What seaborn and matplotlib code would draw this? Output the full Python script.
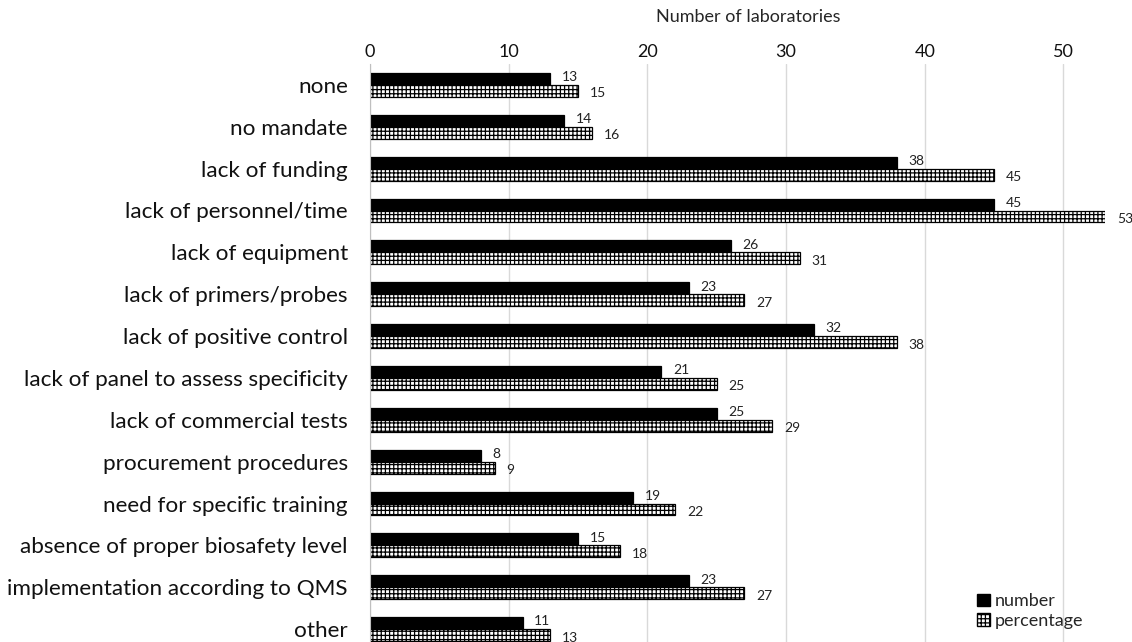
#! /usr/bin/env python3
'''
Barriers to test implementation: number and percentage of laboratories
'''

import numpy as np
import pandas as pd
import seaborn as sns
import matplotlib.pyplot as plt
from matplotlib.patches import Patch

# data
CATEGORIES = [
    'none', 'no mandate', 'lack of funding', 'lack of personnel/time',
    'lack of equipment', 'lack of primers/probes', 'lack of positive control',
    'lack of panel to assess specificity', 'lack of commercial tests',
    'procurement procedures', 'need for specific training',
    'absence of proper biosafety level', 'implementation according to QMS', 'other',
]
NUMBER = [13, 14, 38, 45, 26, 23, 32, 21, 25, 8, 19, 15, 23, 11]
PERCENTAGE = [15, 16, 45, 53, 31, 27, 38, 25, 29, 9, 22, 18, 27, 13]
SERIES = ['number', 'percentage']

df = pd.DataFrame({
    'category': CATEGORIES * 2,
    'value': NUMBER + PERCENTAGE,
    'series': ['number'] * len(NUMBER) + ['percentage'] * len(PERCENTAGE),
})

sns.set_style('white')
plt.rcParams['font.family'] = ['Lato', 'DejaVu Sans']
plt.rcParams['hatch.linewidth'] = 0.9

W, H = 1132, 642
fig = plt.figure(figsize=(W / 100, H / 100), dpi=100)
# axes in pixel terms: left 370, right 1105, top 64, bottom 650 (cut off)
ax = fig.add_axes([370 / W, 1 - 650 / H, (1105 - 370) / W, (650 - 64) / H])

sns.barplot(data=df, y='category', x='value', hue='series', orient='h',
            palette=['black', 'white'], width=0.57, edgecolor='black',
            linewidth=0.9, legend=False, ax=ax)

HATCH = '++++'
for p in ax.containers[1]:
    p.set_hatch(HATCH)
    p.set_edgecolor('black')

# value labels
for cont, vals, dy in zip(ax.containers, [NUMBER, PERCENTAGE], [-0.04, 0.06]):
    for p, v in zip(cont, vals):
        y = p.get_y() + p.get_height() / 2 + dy
        ax.text(v + 0.85, y, str(v), va='center', ha='left', fontsize=10,
                color='#222222')

ax.set_xlim(0, 53)
ax.set_ylim(len(CATEGORIES) - 0.5, -0.5)
ax.xaxis.tick_top()
ax.xaxis.set_label_position('top')
ax.set_xticks(np.arange(0, 51, 10))
ax.tick_params(axis='x', length=0, labelsize=13, pad=3, colors='#111111')
ax.set_xlabel('Number of laboratories', fontsize=13, labelpad=2)
ax.xaxis.set_label_coords(0.514, 1.072)
ax.set_ylabel('')

ax.tick_params(axis='y', which='major', length=0, labelsize=16.2, pad=16,
               colors='#111111')
ax.set_yticks(np.arange(-0.5, len(CATEGORIES), 1), minor=True)
ax.tick_params(axis='y', which='minor', length=6, color='#bfbfbf', width=1)

ax.grid(axis='x', color='#d9d9d9', linewidth=1)
ax.set_axisbelow(True)
for s in ['top', 'right', 'bottom']:
    ax.spines[s].set_visible(False)
ax.spines['left'].set_color('#bfbfbf')

handles = [Patch(facecolor='black', edgecolor='black', label='number'),
           Patch(facecolor='white', edgecolor='black', hatch=HATCH, label='percentage')]
fig.legend(handles=handles, loc='center left', bbox_to_anchor=(968 / W, 1 - 611 / H),
           frameon=False, fontsize=13, handlelength=0.7, handleheight=0.7,
           handletextpad=0.3, labelspacing=0.2, borderpad=0)

fig.savefig('out.png', dpi=100)
